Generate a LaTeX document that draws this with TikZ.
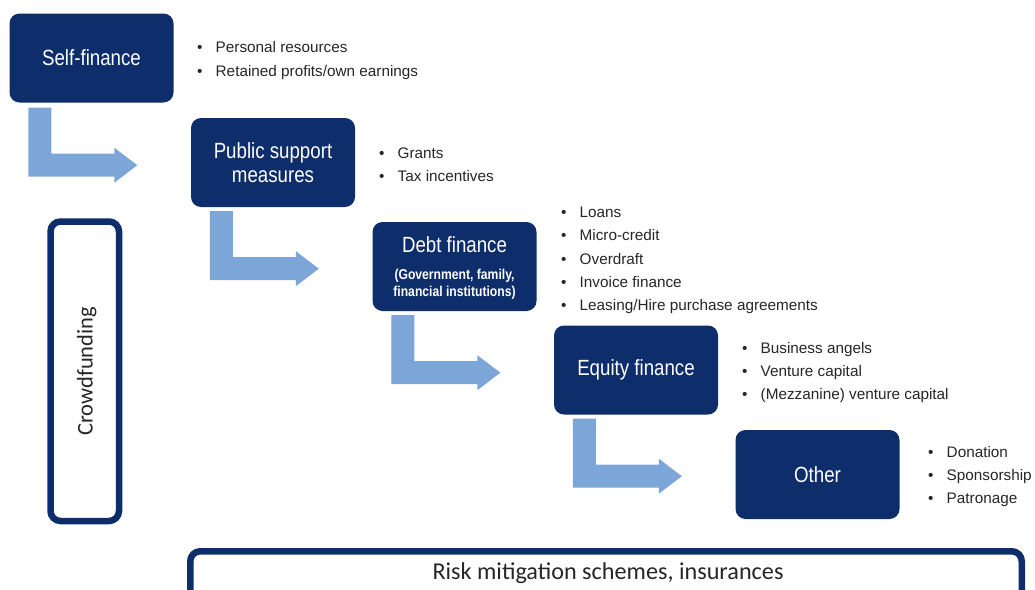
\documentclass[tikz,border=0pt]{standalone}
\usepackage{fontspec}
\setmainfont{Liberation Sans}
\newfontfamily\narrowfont[FakeStretch=0.85]{Liberation Sans}
\newfontfamily\calfont{Carlito}
\usetikzlibrary{calc}
\definecolor{navy}{RGB}{14,45,107}
\definecolor{lightarrow}{RGB}{124,165,216}
\definecolor{bullettext}{RGB}{38,38,38}
\newcommand{\bulmark}{\makebox[18.5pt][l]{•}}
\begin{document}
\begin{tikzpicture}[x=1pt,y=-1pt,
  finbox/.style={fill=navy, rounded corners=10pt, minimum width=164pt, minimum height=89pt, inner sep=0pt, text=white, font=\narrowfont\fontsize{22}{24}\selectfont, align=center},
  boxtext/.style={inner sep=0pt, text=white, align=center},
  bulletlist/.style={anchor=west, inner sep=0pt, align=left, text=bullettext, font=\fontsize{15.3}{23.2}\selectfont},
  outlinebox/.style={draw=navy, line width=6.5pt, rounded corners=10pt, inner sep=0pt},
  bentarrow/.pic={\fill[lightarrow] (0,0) -- (23,0) -- (23,46) -- (86,46) -- (86,40) -- (109,57.5) -- (86,75) -- (86,69) -- (0,69) -- cycle;}
]
\useasboundingbox (0,0) rectangle (1035,589);
\clip (0,0) rectangle (1035,589);

% main boxes
\node[finbox] (sf) at (91.5,58) {Self-finance};
\node[finbox] (ps) at (273,162.5) {Public support\\measures};
\node[finbox] (df) at (454.5,266.5) {};
\node[boxtext, font=\narrowfont\fontsize{22}{24}\selectfont] (dft) at ($(df.center)+(0,-22)$) {Debt finance};
\node[boxtext, font=\narrowfont\bfseries\fontsize{14.3}{17}\selectfont] (dfs) at ($(df.center)+(0,17.5)$) {(Government, family,\\financial institutions)};
\node[finbox] (ef) at (636,370) {Equity finance};
\node[finbox] (ot) at (817.5,474.5) {Other};

% bent arrows
\pic at ($(sf.south west)+(19,5)$) {bentarrow};
\pic at ($(ps.south west)+(19,4)$) {bentarrow};
\pic at ($(df.south west)+(19,4)$) {bentarrow};
\pic at ($(ef.south west)+(19,4)$) {bentarrow};

% bullet lists
\node[bulletlist, font=\fontsize{15.3}{24}\selectfont] (sfl) at (197,60.5) {\bulmark Personal resources\\\bulmark Retained profits/own earnings};
\node[bulletlist] (psl) at (379,165) {\bulmark Grants\\\bulmark Tax incentives};
\node[bulletlist] (dfl) at (561,260.5) {\bulmark Loans\\\bulmark Micro-credit\\\bulmark Overdraft\\\bulmark Invoice finance\\\bulmark Leasing/Hire purchase agreements};
\node[bulletlist] (efl) at (742,372.5) {\bulmark Business angels\\\bulmark Venture capital\\\bulmark (Mezzanine) venture capital};
\node[bulletlist] (otl) at (928,476.5) {\bulmark Donation\\\bulmark Sponsorship\\\bulmark Patronage};

% crowdfunding
\node[outlinebox, minimum width=68.5pt, minimum height=299.5pt] (cf) at (84.75,371.25) {};
\node[rotate=90, inner sep=0pt, text=bullettext, font=\calfont\fontsize{22.5}{24}\selectfont] (cft) at ($(cf.center)+(2,0)$) {Crowdfunding};

% risk mitigation
\node[outlinebox, minimum width=831.5pt, minimum height=60pt] (rm) at (606,581.25) {};
\node[inner sep=0pt, text=bullettext, font=\calfont\fontsize{24.2}{26}\selectfont] (rmt) at (608,573) {Risk mitigation schemes, insurances};
\end{tikzpicture}
\end{document}
